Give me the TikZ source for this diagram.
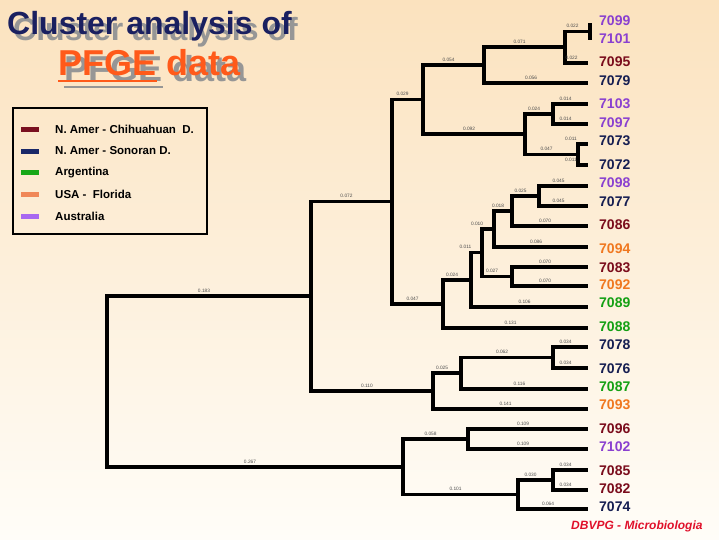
\documentclass[tikz,border=0pt]{standalone}
\usepackage{fontspec}
\setmainfont{Liberation Sans}
\definecolor{bgtop}{RGB}{251,226,190}
\definecolor{bgmid}{RGB}{253,239,220}
\definecolor{bgbot}{RGB}{255,253,248}
\definecolor{cmaroon}{RGB}{122,12,28}
\definecolor{cnavy}{RGB}{22,30,82}
\definecolor{cgreen}{RGB}{20,160,20}
\definecolor{corange}{RGB}{240,120,32}
\definecolor{cpurple}{RGB}{138,64,208}
\definecolor{swmaroon}{RGB}{122,16,32}
\definecolor{swnavy}{RGB}{26,40,104}
\definecolor{swgreen}{RGB}{24,168,24}
\definecolor{sworange}{RGB}{240,136,88}
\definecolor{swpurple}{RGB}{168,104,240}
\definecolor{titlenavy}{RGB}{26,32,96}
\definecolor{titleorange}{RGB}{255,90,26}
\definecolor{shadowgray}{RGB}{150,150,150}
\definecolor{footred}{RGB}{224,16,42}
\tikzset{
  br/.style={line width=3.1pt, line join=miter},
  bl/.style={font=\fontsize{4.8}{5}\selectfont, text=black!70, inner sep=0pt},
  leaf/.style={anchor=west, inner sep=0pt, font=\bfseries\fontsize{14}{16}\selectfont},
  legtext/.style={anchor=west, inner sep=0pt, font=\bfseries\fontsize{11.5}{13}\selectfont},
  titleA/.style={anchor=base west, inner sep=0pt, font=\bfseries\fontsize{32}{35}\selectfont},
  titleB/.style={anchor=base west, inner sep=0pt, font=\bfseries\fontsize{36}{39}\selectfont},
}
\newcommand{\brn}[4][-5pt]{\draw[br] (#2) |- (#3) node[bl, pos=0.75, above=2.3pt, xshift=#1] {#4};}
\newcommand{\lf}[5][588]{\coordinate (e#2) at (#1,#4); \node[leaf, text=#3] (L#2) at (599,#5) {#2};}
\begin{document}
\begin{tikzpicture}[x=1pt,y=-1pt]
\useasboundingbox (0,0) rectangle (719,539);
\shade[top color=bgtop, middle color=bgmid, bottom color=bgbot] (0,0) rectangle (719,539);

% title
\node[titleA, text=shadowgray] (t1s) at (13,40) {Cluster analysis of};
\node[titleA, text=titlenavy] (t1) at (7,34) {Cluster analysis of};
\node[titleB, text=shadowgray] (t2s) at (64,81) {PFGE data};
\draw[shadowgray, line width=2pt] (64,87) -- (163,87);
\node[titleB, text=titleorange] (t2) at (58,75) {PFGE data};
\draw[titleorange, line width=2pt] (58,81) -- (157,81);

% legend
\draw[line width=2.4pt] (13,108) rectangle (207,234);
\fill[swmaroon] (21,126.5) rectangle (39,131.5);
\fill[swnavy] (21,148.5) rectangle (39,153.5);
\fill[swgreen] (21,170) rectangle (39,175);
\fill[sworange] (21,192) rectangle (39,197);
\fill[swpurple] (21,213.5) rectangle (39,218.5);
\node[legtext] (lg1) at (55,129) {N. Amer - Chihuahuan~ D.};
\node[legtext] (lg2) at (55,151) {N. Amer - Sonoran D.};
\node[legtext] (lg3) at (55,172.5) {Argentina};
\node[legtext] (lg4) at (55,194.5) {USA -~ Florida};
\node[legtext] (lg5) at (55,216) {Australia};

% internal nodes
\coordinate (a) at (590,31.5);
\coordinate (b) at (565,47);
\coordinate (c) at (484,65);
\coordinate (d) at (553,114);
\coordinate (e) at (578,154.5);
\coordinate (f) at (525,134);
\coordinate (g) at (423,99.5);
\coordinate (h) at (539,196);
\coordinate (i) at (512,211);
\coordinate (j) at (494,229);
\coordinate (k) at (512,276.5);
\coordinate (l) at (482,252.7);
\coordinate (m) at (471,280);
\coordinate (n) at (443,304);
\coordinate (o) at (392,201.7);
\coordinate (p) at (553,357.5);
\coordinate (q) at (461,373);
\coordinate (r) at (433,391);
\coordinate (s) at (311,296);
\coordinate (t) at (468,439);
\coordinate (u) at (553,480);
\coordinate (v) at (518,494.5);
\coordinate (w) at (403,467);
\coordinate (root) at (107,381.5);

% leaves
\lf[590]{7099}{cpurple}{23}{21}
\lf[590]{7101}{cpurple}{40}{39}
\lf{7095}{cmaroon}{63}{62}
\lf{7079}{cnavy}{83}{81}
\lf{7103}{cpurple}{104}{104}
\lf{7097}{cpurple}{124}{123}
\lf{7073}{cnavy}{144}{141}
\lf{7072}{cnavy}{165}{165}
\lf{7098}{cpurple}{186}{183}
\lf{7077}{cnavy}{206}{202}
\lf{7086}{cmaroon}{226}{225}
\lf{7094}{corange}{247}{249}
\lf{7083}{cmaroon}{267}{268}
\lf{7092}{corange}{286}{285}
\lf{7089}{cgreen}{307}{303}
\lf{7088}{cgreen}{328}{327}
\lf{7078}{cnavy}{347}{345}
\lf{7076}{cnavy}{368}{369}
\lf{7087}{cgreen}{389}{387}
\lf{7093}{corange}{409}{405}
\lf{7096}{cmaroon}{429}{429}
\lf{7102}{cpurple}{449}{447}
\lf{7085}{cmaroon}{470}{471}
\lf{7082}{cmaroon}{490}{489}
\lf{7074}{cnavy}{509}{507}

% branches
\draw[br] (a) |- (e7099);
\draw[br] (a) |- (e7101);
\brn{b}{a}{0.022}
\brn{b}{e7095}{0.022}
\brn{c}{b}{0.071}
\brn{c}{e7079}{0.056}
\brn{g}{c}{0.054}
\brn{g}{f}{0.092}
\brn{f}{d}{0.024}
\brn{f}{e}{0.047}
\brn{d}{e7103}{0.014}
\brn{d}{e7097}{0.014}
\brn[-12pt]{e}{e7073}{0.011}
\brn[-12pt]{e}{e7072}{0.011}
\brn{o}{g}{0.029}
\brn{o}{n}{0.047}
\brn{n}{m}{0.024}
\brn{n}{e7088}{0.131}
\brn[-11pt]{m}{l}{0.011}
\brn{m}{e7089}{0.106}
\brn[-11pt]{l}{j}{0.010}
\brn{l}{k}{0.027}
\brn{j}{i}{0.018}
\brn{j}{e7094}{0.086}
\brn{i}{h}{0.025}
\brn{i}{e7086}{0.070}
\brn{h}{e7098}{0.045}
\brn{h}{e7077}{0.045}
\brn{k}{e7083}{0.070}
\brn{k}{e7092}{0.070}
\brn{s}{o}{0.072}
\brn{s}{r}{0.110}
\brn{r}{q}{0.025}
\brn{r}{e7093}{0.141}
\brn{q}{p}{0.062}
\brn{q}{e7087}{0.116}
\brn{p}{e7078}{0.034}
\brn{p}{e7076}{0.034}
\brn{root}{s}{0.183}
\brn{root}{w}{0.267}
\brn{w}{t}{0.058}
\brn{w}{v}{0.101}
\brn{t}{e7096}{0.109}
\brn{t}{e7102}{0.109}
\brn{v}{u}{0.030}
\brn{v}{e7074}{0.064}
\brn{u}{e7085}{0.034}
\brn{u}{e7082}{0.034}

% footer
\node[anchor=west, inner sep=0pt, text=footred, font=\bfseries\itshape\fontsize{12}{14}\selectfont] (foot) at (571,526) {DBVPG - Microbiologia};
\end{tikzpicture}
\end{document}
